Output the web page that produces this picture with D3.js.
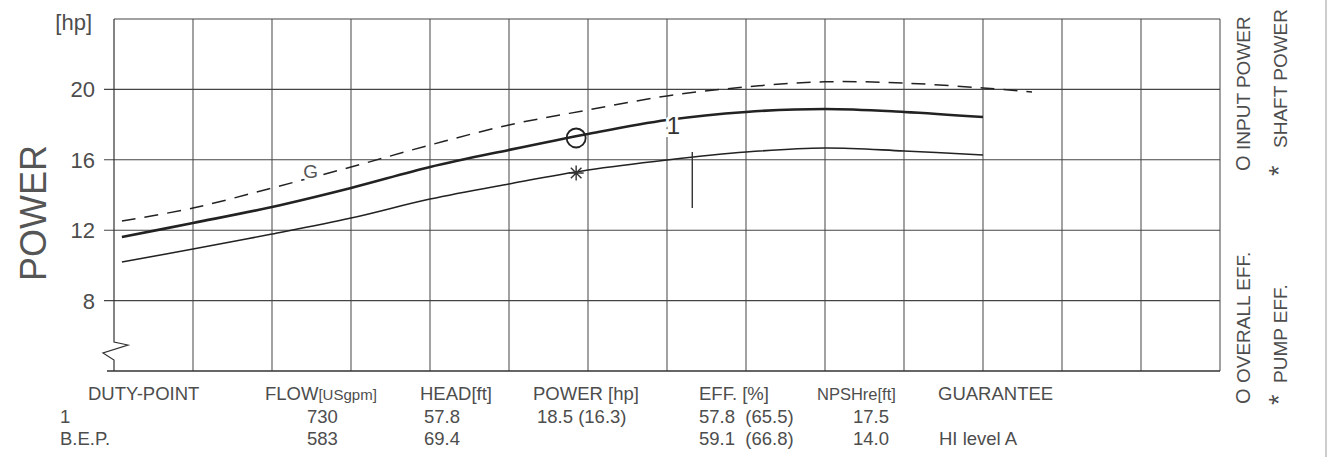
<!DOCTYPE html>
<html>
<head>
<meta charset="utf-8">
<script src="https://cdn.jsdelivr.net/npm/d3@7"></script>
<style>
  body { margin: 0; background: #fff; }
  svg { display: block; font-family: "Liberation Sans", Arial, sans-serif; }
</style>
</head>
<body>
<svg id="chart" width="1329" height="457"></svg>
<script>
// curve values (x in grid columns, y in hp)
var inputX = [0.1, 1, 2, 3, 4, 5, 6, 7, 8, 9, 10, 11];
var inputPower = [11.61, 12.41, 13.32, 14.40, 15.59, 16.56, 17.47, 18.26, 18.72, 18.89, 18.72, 18.43];
var shaftPower = [10.19, 10.93, 11.78, 12.69, 13.77, 14.63, 15.42, 15.99, 16.44, 16.67, 16.50, 16.27];
var guarX = [0.1, 1, 2, 3, 4, 5, 6, 7, 8, 9, 10, 11, 11.62];
var guarPower = [12.52, 13.26, 14.40, 15.59, 16.84, 17.98, 18.83, 19.63, 20.14, 20.43, 20.36, 20.08, 19.85];

// duty point markers
var dutyX = 5.85;
var dutyInput = 17.24;
var dutyShaft = 15.25;
// little vertical mark right of the "1"
var markX = 7.32;
var markY = [13.26, 16.44];

var yTicks = [8, 12, 16, 20];
var colCount = 14;

// table under the chart
var tableHead = ["DUTY-POINT", "FLOW", "HEAD[ft]", "POWER [hp]", "EFF. [%]", "NPSHre[ft]", "GUARANTEE"];
var rowDuty = ["1", "730", "57.8", "18.5 (16.3)", "57.8  (65.5)", "17.5", ""];
var rowBep = ["B.E.P.", "583", "69.4", "", "59.1  (66.8)", "14.0", "HI level A"];

var svg = d3.select('#chart');
var ink = '#222';
var txt = '#4d4d4d';

var x = d3.scaleLinear().domain([0, colCount]).range([114, 1220]);
var y = d3.scaleLinear().domain([4, 24]).range([371, 19]);

var x0 = x(0), x1 = x(colCount);

// grid - vertical
svg.selectAll('line.vgrid')
  .data(d3.range(1, colCount + 1))
  .enter().append('line')
  .attr('x1', function (d) { return x(d); })
  .attr('x2', function (d) { return x(d); })
  .attr('y1', y(24)).attr('y2', y(4))
  .attr('stroke', '#555').attr('stroke-width', 1.1);

// grid - horizontal with ticks sticking out left
svg.selectAll('line.hgrid')
  .data(yTicks)
  .enter().append('line')
  .attr('x1', x0 - 10).attr('x2', x1)
  .attr('y1', function (d) { return y(d); })
  .attr('y2', function (d) { return y(d); })
  .attr('stroke', '#444').attr('stroke-width', 1.1);

svg.append('line')
  .attr('x1', x0).attr('x2', x1).attr('y1', y(24)).attr('y2', y(24))
  .attr('stroke', '#444').attr('stroke-width', 1.1);
svg.append('line')
  .attr('x1', x0 - 7).attr('x2', x1).attr('y1', y(4)).attr('y2', y(4))
  .attr('stroke', '#333').attr('stroke-width', 1.3);

// left axis with the break mark
var yb = y(4);
svg.append('path')
  .attr('d', 'M' + x0 + ',' + y(24) + 'L' + x0 + ',' + (yb - 29) +
    'L' + (x0 + 14) + ',' + (yb - 26) + 'L' + (x0 - 11) + ',' + (yb - 18) +
    'L' + x0 + ',' + (yb - 11) + 'L' + x0 + ',' + yb)
  .attr('fill', 'none').attr('stroke', '#333').attr('stroke-width', 1.2);

// tick labels
svg.selectAll('text.ytick')
  .data(yTicks)
  .enter().append('text')
  .attr('x', x0 - 19)
  .attr('y', function (d) { return y(d); })
  .attr('dy', '0.36em')
  .attr('text-anchor', 'end')
  .attr('font-size', 22)
  .attr('fill', txt)
  .text(function (d) { return d; });

svg.append('text')
  .attr('x', 92).attr('y', 30)
  .attr('text-anchor', 'end').attr('font-size', 22).attr('fill', txt)
  .text('[hp]');

svg.append('text')
  .attr('transform', 'translate(46,' + 213 + ') rotate(-90)')
  .attr('text-anchor', 'middle').attr('font-size', 36).attr('fill', '#555')
  .text('POWER');

// curves
var line = d3.line().curve(d3.curveCatmullRom);

svg.append('path')
  .attr('d', line(guarX.map(function (d, i) { return [x(d), y(guarPower[i])]; })))
  .attr('fill', 'none').attr('stroke', ink).attr('stroke-width', 1.5)
  .attr('stroke-dasharray', '14,9');

svg.append('path')
  .attr('d', line(inputX.map(function (d, i) { return [x(d), y(inputPower[i])]; })))
  .attr('fill', 'none').attr('stroke', ink).attr('stroke-width', 2.6);

svg.append('path')
  .attr('d', line(inputX.map(function (d, i) { return [x(d), y(shaftPower[i])]; })))
  .attr('fill', 'none').attr('stroke', ink).attr('stroke-width', 1.6);

// curve labels, white halo cuts the line
svg.append('text')
  .attr('x', x(2.49)).attr('y', y(14.97))
  .attr('text-anchor', 'middle').attr('font-size', 19).attr('fill', '#555')
  .attr('stroke', '#fff').attr('stroke-width', 7).attr('paint-order', 'stroke')
  .text('G');

svg.append('text')
  .attr('x', x(7.08)).attr('y', y(17.47))
  .attr('text-anchor', 'middle').attr('font-size', 24).attr('fill', '#333')
  .attr('stroke', '#fff').attr('stroke-width', 6).attr('paint-order', 'stroke')
  .text('1');

svg.append('line')
  .attr('x1', x(markX)).attr('x2', x(markX))
  .attr('y1', y(markY[0])).attr('y2', y(markY[1]))
  .attr('stroke', '#333').attr('stroke-width', 1.4);

// markers
svg.append('circle')
  .attr('cx', x(dutyX)).attr('cy', y(dutyInput)).attr('r', 9.5)
  .attr('fill', 'none').attr('stroke', ink).attr('stroke-width', 1.8);

var ax = x(dutyX), ay = y(dutyShaft), r = 7.5;
var star = '';
[0, 45, 90, 135].forEach(function (a) {
  var t = a * Math.PI / 180;
  star += 'M' + (ax - r * Math.cos(t)) + ',' + (ay - r * Math.sin(t)) +
    'L' + (ax + r * Math.cos(t)) + ',' + (ay + r * Math.sin(t));
});
svg.append('path').attr('d', star)
  .attr('stroke', '#333').attr('stroke-width', 1.4).attr('fill', 'none');

// right side legend (vertical text)
function vtext(px, py, s, size) {
  svg.append('text')
    .attr('transform', 'translate(' + px + ',' + py + ') rotate(-90)')
    .attr('font-size', size || 19).attr('fill', txt)
    .text(s);
}
vtext(1250, 171, 'O', 20);
vtext(1250, 150, 'INPUT POWER');
vtext(1288, 176, '*', 27);
vtext(1287, 148, 'SHAFT POWER');
vtext(1250, 404, 'O', 20);
vtext(1250, 383, 'OVERALL EFF.');
vtext(1288, 405, '*', 27);
vtext(1287, 383, 'PUMP EFF.');

// page edge
svg.append('line')
  .attr('x1', 1326).attr('x2', 1326).attr('y1', 0).attr('y2', 457)
  .attr('stroke', '#aaa').attr('stroke-width', 1.2);

// table
var headX = [88, 265, 420, 533, 699, 817, 938];
var cellX = [60, 307, 424, 537, 699, 853, 939];

var head = svg.selectAll('text.head')
  .data(tableHead)
  .enter().append('text')
  .attr('x', function (d, i) { return headX[i]; })
  .attr('y', 400)
  .attr('font-size', function (d, i) { return i == 5 ? 16.5 : 18.5; })
  .attr('fill', txt)
  .text(function (d) { return d; });
// FLOW unit in small letters
head.filter(function (d) { return d == 'FLOW'; })
  .append('tspan').attr('font-size', 15).text('[USgpm]');

[[rowDuty, 423], [rowBep, 445]].forEach(function (row) {
  svg.selectAll(null)
    .data(row[0])
    .enter().append('text')
    .attr('x', function (d, i) { return cellX[i]; })
    .attr('y', row[1])
    .attr('font-size', 18.5)
    .attr('fill', txt)
    .attr('xml:space', 'preserve')
    .style('white-space', 'pre')
    .text(function (d) { return d; });
});
</script>
</body>
</html>
